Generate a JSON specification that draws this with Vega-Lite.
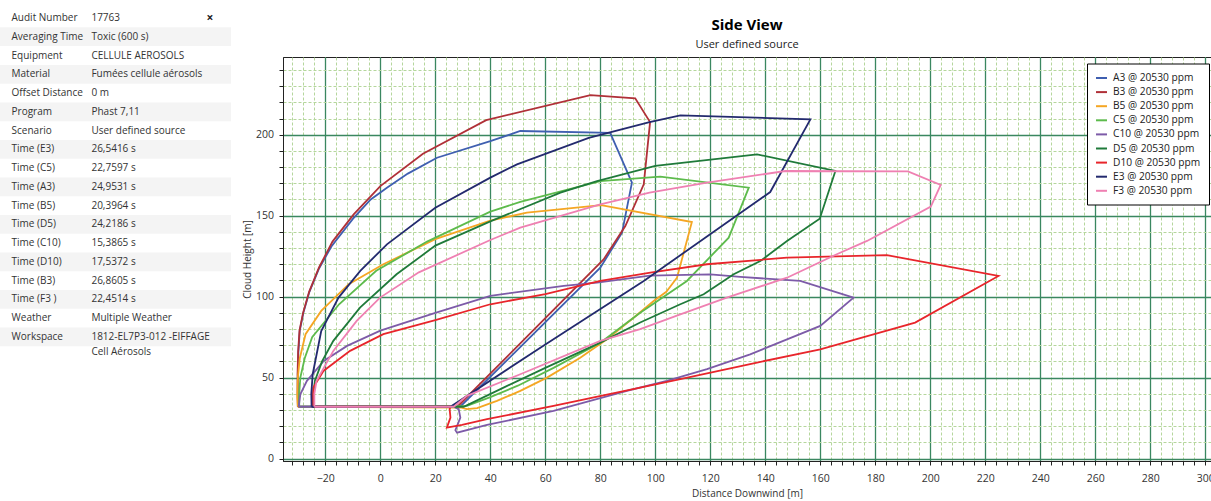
{
  "$schema": "https://vega.github.io/schema/vega-lite/v6.json",
  "padding": {"left": 0, "top": 11, "right": 0, "bottom": 0},
  "background": "white",
  "bounds": "flush",
  "spacing": 52,
  "config": {"font": "Open Sans", "view": {"stroke": null}},
  "datasets": {
    "info": [
      {"row": 1, "label": "Audit Number", "value": "17763"},
      {"row": 2, "label": "Averaging Time", "value": "Toxic (600 s)"},
      {"row": 3, "label": "Equipment", "value": "CELLULE AEROSOLS"},
      {"row": 4, "label": "Material", "value": "Fumées cellule aérosols"},
      {"row": 5, "label": "Offset Distance", "value": "0 m"},
      {"row": 6, "label": "Program", "value": "Phast 7,11"},
      {"row": 7, "label": "Scenario", "value": "User defined source"},
      {"row": 8, "label": "Time (E3)", "value": "26,5416 s"},
      {"row": 9, "label": "Time (C5)", "value": "22,7597 s"},
      {"row": 10, "label": "Time (A3)", "value": "24,9531 s"},
      {"row": 11, "label": "Time (B5)", "value": "20,3964 s"},
      {"row": 12, "label": "Time (D5)", "value": "24,2186 s"},
      {"row": 13, "label": "Time (C10)", "value": "15,3865 s"},
      {"row": 14, "label": "Time (D10)", "value": "17,5372 s"},
      {"row": 15, "label": "Time (B3)", "value": "26,8605 s"},
      {"row": 16, "label": "Time (F3 )", "value": "22,4514 s"},
      {"row": 17, "label": "Weather", "value": "Multiple Weather"},
      {"row": 18, "label": "Workspace", "value": "1812-EL7P3-012 -EIFFAGE", "value2": "Cell Aérosols"}
    ],
    "curves": [
      {"s": "A3 @ 20530 ppm", "i": 1, "x": -29.9, "y": 32},
      {"s": "A3 @ 20530 ppm", "i": 2, "x": -30, "y": 40},
      {"s": "A3 @ 20530 ppm", "i": 3, "x": -30, "y": 52},
      {"s": "A3 @ 20530 ppm", "i": 4, "x": -29.8, "y": 66},
      {"s": "A3 @ 20530 ppm", "i": 5, "x": -29.3, "y": 79},
      {"s": "A3 @ 20530 ppm", "i": 6, "x": -28, "y": 90},
      {"s": "A3 @ 20530 ppm", "i": 7, "x": -25.8, "y": 103},
      {"s": "A3 @ 20530 ppm", "i": 8, "x": -22.4, "y": 117},
      {"s": "A3 @ 20530 ppm", "i": 9, "x": -17.8, "y": 131},
      {"s": "A3 @ 20530 ppm", "i": 10, "x": -10, "y": 148},
      {"s": "A3 @ 20530 ppm", "i": 11, "x": -3.5, "y": 160},
      {"s": "A3 @ 20530 ppm", "i": 12, "x": 2.4, "y": 167.3},
      {"s": "A3 @ 20530 ppm", "i": 13, "x": 10, "y": 176},
      {"s": "A3 @ 20530 ppm", "i": 14, "x": 20.6, "y": 185.8},
      {"s": "A3 @ 20530 ppm", "i": 15, "x": 40, "y": 196},
      {"s": "A3 @ 20530 ppm", "i": 16, "x": 50.9, "y": 202.3},
      {"s": "A3 @ 20530 ppm", "i": 17, "x": 83.6, "y": 201.2},
      {"s": "A3 @ 20530 ppm", "i": 18, "x": 91.5, "y": 170.4},
      {"s": "A3 @ 20530 ppm", "i": 19, "x": 87.9, "y": 139.5},
      {"s": "A3 @ 20530 ppm", "i": 20, "x": 80, "y": 117.9},
      {"s": "A3 @ 20530 ppm", "i": 21, "x": 29, "y": 32},
      {"s": "A3 @ 20530 ppm", "i": 22, "x": -29.9, "y": 32},

      {"s": "B3 @ 20530 ppm", "i": 1, "x": -30, "y": 32},
      {"s": "B3 @ 20530 ppm", "i": 2, "x": -30.1, "y": 40},
      {"s": "B3 @ 20530 ppm", "i": 3, "x": -30.1, "y": 52},
      {"s": "B3 @ 20530 ppm", "i": 4, "x": -29.9, "y": 66},
      {"s": "B3 @ 20530 ppm", "i": 5, "x": -29.4, "y": 79},
      {"s": "B3 @ 20530 ppm", "i": 6, "x": -28.1, "y": 90},
      {"s": "B3 @ 20530 ppm", "i": 7, "x": -25.9, "y": 103},
      {"s": "B3 @ 20530 ppm", "i": 8, "x": -22.3, "y": 118},
      {"s": "B3 @ 20530 ppm", "i": 9, "x": -17.4, "y": 134},
      {"s": "B3 @ 20530 ppm", "i": 10, "x": -9.7, "y": 150.8},
      {"s": "B3 @ 20530 ppm", "i": 11, "x": 0, "y": 168.3},
      {"s": "B3 @ 20530 ppm", "i": 12, "x": 15.5, "y": 188.3},
      {"s": "B3 @ 20530 ppm", "i": 13, "x": 38.5, "y": 209},
      {"s": "B3 @ 20530 ppm", "i": 14, "x": 76.4, "y": 224.5},
      {"s": "B3 @ 20530 ppm", "i": 15, "x": 92.7, "y": 222.5},
      {"s": "B3 @ 20530 ppm", "i": 16, "x": 98.1, "y": 207.8},
      {"s": "B3 @ 20530 ppm", "i": 17, "x": 95.8, "y": 169.4},
      {"s": "B3 @ 20530 ppm", "i": 18, "x": 89.1, "y": 143.6},
      {"s": "B3 @ 20530 ppm", "i": 19, "x": 81.2, "y": 123},
      {"s": "B3 @ 20530 ppm", "i": 20, "x": 28, "y": 32},
      {"s": "B3 @ 20530 ppm", "i": 21, "x": -30, "y": 32},

      {"s": "B5 @ 20530 ppm", "i": 1, "x": -30, "y": 32},
      {"s": "B5 @ 20530 ppm", "i": 2, "x": -30.2, "y": 38},
      {"s": "B5 @ 20530 ppm", "i": 3, "x": -30, "y": 50},
      {"s": "B5 @ 20530 ppm", "i": 4, "x": -29.3, "y": 62},
      {"s": "B5 @ 20530 ppm", "i": 5, "x": -27.2, "y": 76.8},
      {"s": "B5 @ 20530 ppm", "i": 6, "x": -21.5, "y": 91.2},
      {"s": "B5 @ 20530 ppm", "i": 7, "x": -11.5, "y": 107.7},
      {"s": "B5 @ 20530 ppm", "i": 8, "x": 1.1, "y": 120},
      {"s": "B5 @ 20530 ppm", "i": 9, "x": 20, "y": 135.5},
      {"s": "B5 @ 20530 ppm", "i": 10, "x": 40, "y": 147},
      {"s": "B5 @ 20530 ppm", "i": 11, "x": 53.3, "y": 151.9},
      {"s": "B5 @ 20530 ppm", "i": 12, "x": 80.3, "y": 156.5},
      {"s": "B5 @ 20530 ppm", "i": 13, "x": 113.3, "y": 146.1},
      {"s": "B5 @ 20530 ppm", "i": 14, "x": 107.9, "y": 111.7},
      {"s": "B5 @ 20530 ppm", "i": 15, "x": 104, "y": 103},
      {"s": "B5 @ 20530 ppm", "i": 16, "x": 99.4, "y": 97.3},
      {"s": "B5 @ 20530 ppm", "i": 17, "x": 92.1, "y": 87},
      {"s": "B5 @ 20530 ppm", "i": 18, "x": 82.4, "y": 73.7},
      {"s": "B5 @ 20530 ppm", "i": 19, "x": 72.7, "y": 62.3},
      {"s": "B5 @ 20530 ppm", "i": 20, "x": 60.6, "y": 50},
      {"s": "B5 @ 20530 ppm", "i": 21, "x": 50.9, "y": 41.8},
      {"s": "B5 @ 20530 ppm", "i": 22, "x": 42.4, "y": 35.6},
      {"s": "B5 @ 20530 ppm", "i": 23, "x": 35.2, "y": 31.1},
      {"s": "B5 @ 20530 ppm", "i": 24, "x": 31.5, "y": 30.5},
      {"s": "B5 @ 20530 ppm", "i": 25, "x": 29.5, "y": 31.5},
      {"s": "B5 @ 20530 ppm", "i": 26, "x": -30, "y": 32},

      {"s": "C5 @ 20530 ppm", "i": 1, "x": -29.5, "y": 32},
      {"s": "C5 @ 20530 ppm", "i": 2, "x": -29.5, "y": 40},
      {"s": "C5 @ 20530 ppm", "i": 3, "x": -29.1, "y": 50},
      {"s": "C5 @ 20530 ppm", "i": 4, "x": -27.5, "y": 62},
      {"s": "C5 @ 20530 ppm", "i": 5, "x": -24.8, "y": 75},
      {"s": "C5 @ 20530 ppm", "i": 6, "x": -15, "y": 95.3},
      {"s": "C5 @ 20530 ppm", "i": 7, "x": -1.5, "y": 116},
      {"s": "C5 @ 20530 ppm", "i": 8, "x": 17, "y": 134},
      {"s": "C5 @ 20530 ppm", "i": 9, "x": 40, "y": 152.5},
      {"s": "C5 @ 20530 ppm", "i": 10, "x": 50.9, "y": 158.5},
      {"s": "C5 @ 20530 ppm", "i": 11, "x": 80, "y": 171.4},
      {"s": "C5 @ 20530 ppm", "i": 12, "x": 101.8, "y": 174.1},
      {"s": "C5 @ 20530 ppm", "i": 13, "x": 134, "y": 167.3},
      {"s": "C5 @ 20530 ppm", "i": 14, "x": 126.7, "y": 136.4},
      {"s": "C5 @ 20530 ppm", "i": 15, "x": 111.5, "y": 109.7},
      {"s": "C5 @ 20530 ppm", "i": 16, "x": 94.5, "y": 90},
      {"s": "C5 @ 20530 ppm", "i": 17, "x": 80, "y": 71.5},
      {"s": "C5 @ 20530 ppm", "i": 18, "x": 63, "y": 56},
      {"s": "C5 @ 20530 ppm", "i": 19, "x": 50, "y": 45},
      {"s": "C5 @ 20530 ppm", "i": 20, "x": 40, "y": 38},
      {"s": "C5 @ 20530 ppm", "i": 21, "x": 31.5, "y": 32.5},
      {"s": "C5 @ 20530 ppm", "i": 22, "x": -29.5, "y": 32},

      {"s": "C10 @ 20530 ppm", "i": 1, "x": -29.7, "y": 32},
      {"s": "C10 @ 20530 ppm", "i": 2, "x": -29.1, "y": 39.7},
      {"s": "C10 @ 20530 ppm", "i": 3, "x": -26.7, "y": 48},
      {"s": "C10 @ 20530 ppm", "i": 4, "x": -20.6, "y": 60.3},
      {"s": "C10 @ 20530 ppm", "i": 5, "x": -12.1, "y": 69.6},
      {"s": "C10 @ 20530 ppm", "i": 6, "x": 0, "y": 79},
      {"s": "C10 @ 20530 ppm", "i": 7, "x": 20, "y": 90},
      {"s": "C10 @ 20530 ppm", "i": 8, "x": 40, "y": 100.5},
      {"s": "C10 @ 20530 ppm", "i": 9, "x": 66.7, "y": 106.6},
      {"s": "C10 @ 20530 ppm", "i": 10, "x": 78.8, "y": 108.6},
      {"s": "C10 @ 20530 ppm", "i": 11, "x": 98, "y": 113},
      {"s": "C10 @ 20530 ppm", "i": 12, "x": 120, "y": 113.8},
      {"s": "C10 @ 20530 ppm", "i": 13, "x": 130.9, "y": 112.2},
      {"s": "C10 @ 20530 ppm", "i": 14, "x": 152.7, "y": 109.7},
      {"s": "C10 @ 20530 ppm", "i": 15, "x": 172.1, "y": 99.4},
      {"s": "C10 @ 20530 ppm", "i": 16, "x": 160, "y": 81.9},
      {"s": "C10 @ 20530 ppm", "i": 17, "x": 134.5, "y": 64.4},
      {"s": "C10 @ 20530 ppm", "i": 18, "x": 118.8, "y": 55.2},
      {"s": "C10 @ 20530 ppm", "i": 19, "x": 104.2, "y": 48},
      {"s": "C10 @ 20530 ppm", "i": 20, "x": 90, "y": 42},
      {"s": "C10 @ 20530 ppm", "i": 21, "x": 63, "y": 29.4},
      {"s": "C10 @ 20530 ppm", "i": 22, "x": 38.8, "y": 20.8},
      {"s": "C10 @ 20530 ppm", "i": 23, "x": 27.9, "y": 16},
      {"s": "C10 @ 20530 ppm", "i": 24, "x": 27.3, "y": 17.5},
      {"s": "C10 @ 20530 ppm", "i": 25, "x": 29.1, "y": 25.3},
      {"s": "C10 @ 20530 ppm", "i": 26, "x": 28.5, "y": 30.5},
      {"s": "C10 @ 20530 ppm", "i": 27, "x": 26.7, "y": 32},
      {"s": "C10 @ 20530 ppm", "i": 28, "x": -29.7, "y": 32},

      {"s": "D5 @ 20530 ppm", "i": 1, "x": -24.5, "y": 32},
      {"s": "D5 @ 20530 ppm", "i": 2, "x": -24.4, "y": 40},
      {"s": "D5 @ 20530 ppm", "i": 3, "x": -23.8, "y": 48},
      {"s": "D5 @ 20530 ppm", "i": 4, "x": -21.2, "y": 60},
      {"s": "D5 @ 20530 ppm", "i": 5, "x": -17.1, "y": 72.7},
      {"s": "D5 @ 20530 ppm", "i": 6, "x": -7.4, "y": 93.2},
      {"s": "D5 @ 20530 ppm", "i": 7, "x": 5.9, "y": 113.8},
      {"s": "D5 @ 20530 ppm", "i": 8, "x": 20, "y": 131.5},
      {"s": "D5 @ 20530 ppm", "i": 9, "x": 40, "y": 146.5},
      {"s": "D5 @ 20530 ppm", "i": 10, "x": 65.5, "y": 164.2},
      {"s": "D5 @ 20530 ppm", "i": 11, "x": 78.8, "y": 171.4},
      {"s": "D5 @ 20530 ppm", "i": 12, "x": 100, "y": 180.7},
      {"s": "D5 @ 20530 ppm", "i": 13, "x": 137, "y": 187.9},
      {"s": "D5 @ 20530 ppm", "i": 14, "x": 165.5, "y": 177.6},
      {"s": "D5 @ 20530 ppm", "i": 15, "x": 159.8, "y": 148.1},
      {"s": "D5 @ 20530 ppm", "i": 16, "x": 147.9, "y": 134.4},
      {"s": "D5 @ 20530 ppm", "i": 17, "x": 138.2, "y": 122},
      {"s": "D5 @ 20530 ppm", "i": 18, "x": 128.5, "y": 113.8},
      {"s": "D5 @ 20530 ppm", "i": 19, "x": 117.6, "y": 101.5},
      {"s": "D5 @ 20530 ppm", "i": 20, "x": 109.1, "y": 95.3},
      {"s": "D5 @ 20530 ppm", "i": 21, "x": 94.5, "y": 84},
      {"s": "D5 @ 20530 ppm", "i": 22, "x": 80, "y": 71.6},
      {"s": "D5 @ 20530 ppm", "i": 23, "x": 60, "y": 56},
      {"s": "D5 @ 20530 ppm", "i": 24, "x": 45, "y": 44},
      {"s": "D5 @ 20530 ppm", "i": 25, "x": 30.3, "y": 32},
      {"s": "D5 @ 20530 ppm", "i": 26, "x": -24.5, "y": 32},

      {"s": "D10 @ 20530 ppm", "i": 1, "x": -24.5, "y": 32},
      {"s": "D10 @ 20530 ppm", "i": 2, "x": -24.5, "y": 38},
      {"s": "D10 @ 20530 ppm", "i": 3, "x": -24.4, "y": 43.8},
      {"s": "D10 @ 20530 ppm", "i": 4, "x": -20.7, "y": 54.1},
      {"s": "D10 @ 20530 ppm", "i": 5, "x": -11, "y": 66.5},
      {"s": "D10 @ 20530 ppm", "i": 6, "x": 1.1, "y": 76.8},
      {"s": "D10 @ 20530 ppm", "i": 7, "x": 20, "y": 85.5},
      {"s": "D10 @ 20530 ppm", "i": 8, "x": 40, "y": 95.3},
      {"s": "D10 @ 20530 ppm", "i": 9, "x": 60, "y": 101.5},
      {"s": "D10 @ 20530 ppm", "i": 10, "x": 80, "y": 109.7},
      {"s": "D10 @ 20530 ppm", "i": 11, "x": 98.2, "y": 114.8},
      {"s": "D10 @ 20530 ppm", "i": 12, "x": 118.8, "y": 120},
      {"s": "D10 @ 20530 ppm", "i": 13, "x": 147.9, "y": 124.1},
      {"s": "D10 @ 20530 ppm", "i": 14, "x": 184.2, "y": 125.7},
      {"s": "D10 @ 20530 ppm", "i": 15, "x": 224.8, "y": 112.8},
      {"s": "D10 @ 20530 ppm", "i": 16, "x": 194.5, "y": 84},
      {"s": "D10 @ 20530 ppm", "i": 17, "x": 160, "y": 67.5},
      {"s": "D10 @ 20530 ppm", "i": 18, "x": 137, "y": 59.3},
      {"s": "D10 @ 20530 ppm", "i": 19, "x": 109.1, "y": 49},
      {"s": "D10 @ 20530 ppm", "i": 20, "x": 94.5, "y": 43.8},
      {"s": "D10 @ 20530 ppm", "i": 21, "x": 63, "y": 32.5},
      {"s": "D10 @ 20530 ppm", "i": 22, "x": 38.8, "y": 24.3},
      {"s": "D10 @ 20530 ppm", "i": 23, "x": 29.7, "y": 20.8},
      {"s": "D10 @ 20530 ppm", "i": 24, "x": 24.2, "y": 19.1},
      {"s": "D10 @ 20530 ppm", "i": 25, "x": 25.5, "y": 25.3},
      {"s": "D10 @ 20530 ppm", "i": 26, "x": 25.2, "y": 30.5},
      {"s": "D10 @ 20530 ppm", "i": 27, "x": 25.5, "y": 32},
      {"s": "D10 @ 20530 ppm", "i": 28, "x": -24.5, "y": 32},

      {"s": "E3 @ 20530 ppm", "i": 1, "x": -25, "y": 32},
      {"s": "E3 @ 20530 ppm", "i": 2, "x": -25.1, "y": 40},
      {"s": "E3 @ 20530 ppm", "i": 3, "x": -24.6, "y": 52.1},
      {"s": "E3 @ 20530 ppm", "i": 4, "x": -21.5, "y": 78.8},
      {"s": "E3 @ 20530 ppm", "i": 5, "x": -15.2, "y": 99.4},
      {"s": "E3 @ 20530 ppm", "i": 6, "x": -7.3, "y": 115.9},
      {"s": "E3 @ 20530 ppm", "i": 7, "x": 2.4, "y": 132.3},
      {"s": "E3 @ 20530 ppm", "i": 8, "x": 20, "y": 154.9},
      {"s": "E3 @ 20530 ppm", "i": 9, "x": 40, "y": 173.5},
      {"s": "E3 @ 20530 ppm", "i": 10, "x": 49.7, "y": 181.7},
      {"s": "E3 @ 20530 ppm", "i": 11, "x": 75.8, "y": 198.1},
      {"s": "E3 @ 20530 ppm", "i": 12, "x": 97.9, "y": 207.8},
      {"s": "E3 @ 20530 ppm", "i": 13, "x": 109.1, "y": 212},
      {"s": "E3 @ 20530 ppm", "i": 14, "x": 156.4, "y": 209.5},
      {"s": "E3 @ 20530 ppm", "i": 15, "x": 141.8, "y": 164.6},
      {"s": "E3 @ 20530 ppm", "i": 16, "x": 95.8, "y": 109.7},
      {"s": "E3 @ 20530 ppm", "i": 17, "x": 60, "y": 70.5},
      {"s": "E3 @ 20530 ppm", "i": 18, "x": 25.5, "y": 32},
      {"s": "E3 @ 20530 ppm", "i": 19, "x": -25, "y": 32},

      {"s": "F3  @ 20530 ppm", "i": 1, "x": -24, "y": 32},
      {"s": "F3  @ 20530 ppm", "i": 2, "x": -24, "y": 40},
      {"s": "F3  @ 20530 ppm", "i": 3, "x": -23.2, "y": 48},
      {"s": "F3  @ 20530 ppm", "i": 4, "x": -17.1, "y": 66.5},
      {"s": "F3  @ 20530 ppm", "i": 5, "x": -8.6, "y": 85},
      {"s": "F3  @ 20530 ppm", "i": 6, "x": -0.1, "y": 99.4},
      {"s": "F3  @ 20530 ppm", "i": 7, "x": 14, "y": 115},
      {"s": "F3  @ 20530 ppm", "i": 8, "x": 40, "y": 135},
      {"s": "F3  @ 20530 ppm", "i": 9, "x": 50.9, "y": 142.6},
      {"s": "F3  @ 20530 ppm", "i": 10, "x": 80, "y": 157},
      {"s": "F3  @ 20530 ppm", "i": 11, "x": 97.9, "y": 164.2},
      {"s": "F3  @ 20530 ppm", "i": 12, "x": 118.8, "y": 170.4},
      {"s": "F3  @ 20530 ppm", "i": 13, "x": 147.3, "y": 177.6},
      {"s": "F3  @ 20530 ppm", "i": 14, "x": 191.9, "y": 177.4},
      {"s": "F3  @ 20530 ppm", "i": 15, "x": 203.8, "y": 169},
      {"s": "F3  @ 20530 ppm", "i": 16, "x": 200.2, "y": 155.6},
      {"s": "F3  @ 20530 ppm", "i": 17, "x": 177, "y": 134.4},
      {"s": "F3  @ 20530 ppm", "i": 18, "x": 166, "y": 126.2},
      {"s": "F3  @ 20530 ppm", "i": 19, "x": 147.9, "y": 111.7},
      {"s": "F3  @ 20530 ppm", "i": 20, "x": 126, "y": 99.4},
      {"s": "F3  @ 20530 ppm", "i": 21, "x": 109.1, "y": 89.1},
      {"s": "F3  @ 20530 ppm", "i": 22, "x": 94.5, "y": 79.9},
      {"s": "F3  @ 20530 ppm", "i": 23, "x": 80, "y": 72.7},
      {"s": "F3  @ 20530 ppm", "i": 24, "x": 50.9, "y": 52.1},
      {"s": "F3  @ 20530 ppm", "i": 25, "x": 31.5, "y": 38.7},
      {"s": "F3  @ 20530 ppm", "i": 26, "x": 26.7, "y": 32},
      {"s": "F3  @ 20530 ppm", "i": 27, "x": -24, "y": 32}
    ]
  },
  "hconcat": [
    {
      "width": 231,
      "height": 404,
      "view": {"stroke": null},
      "data": {"name": "info"},
      "layer": [
        {
          "transform": [{"filter": "datum.row % 2 == 0"}],
          "mark": {"type": "rect", "color": "#f4f4f4"},
          "encoding": {
            "y": {"field": "row", "type": "ordinal", "axis": null,
                  "scale": {"domain": [1,2,3,4,5,6,7,8,9,10,11,12,13,14,15,16,17,18], "range": [-48.4, 289.3], "paddingInner": 0, "paddingOuter": 0}}
          }
        },
        {
          "mark": {"type": "text", "align": "left", "baseline": "middle", "fontSize": 10, "color": "#333"},
          "encoding": {
            "x": {"datum": 12, "type": "quantitative", "scale": {"domain": [0, 231]}, "axis": null},
            "y": {"field": "row", "type": "ordinal", "axis": null},
            "text": {"field": "label"}
          }
        },
        {
          "mark": {"type": "text", "align": "left", "baseline": "middle", "fontSize": 10, "color": "#333"},
          "encoding": {
            "x": {"datum": 95, "type": "quantitative"},
            "y": {"field": "row", "type": "ordinal", "axis": null},
            "text": {"field": "value"}
          }
        },
        {
          "transform": [{"filter": "datum.row == 18"}],
          "mark": {"type": "text", "align": "left", "baseline": "middle", "fontSize": 10, "color": "#333", "dy": 15},
          "encoding": {
            "x": {"datum": 95, "type": "quantitative"},
            "y": {"field": "row", "type": "ordinal", "axis": null},
            "text": {"field": "value2"}
          }
        },
        {
          "transform": [{"filter": "datum.row == 1"}],
          "mark": {"type": "text", "align": "center", "baseline": "middle", "fontSize": 12, "fontWeight": "bold", "color": "#222"},
          "encoding": {
            "x": {"datum": 218, "type": "quantitative"},
            "y": {"field": "row", "type": "ordinal", "axis": null},
            "text": {"value": "×"}
          }
        }
      ]
    },
    {
      "width": 928,
      "height": 404,
      "view": {"stroke": "#222", "strokeWidth": 1},
      "title": {"text": "Side View", "subtitle": "User defined source", "fontSize": 15, "fontWeight": "bold", "color": "#000", "subtitleFontSize": 11, "subtitleColor": "#222", "subtitlePadding": 6, "offset": 7, "anchor": "middle"},
      "data": {"name": "curves"},
      "resolve": {"axis": {"x": "independent", "y": "independent"}},
      "layer": [
        {
          "mark": {"type": "point", "opacity": 0},
          "encoding": {
            "x": {"field": "x", "type": "quantitative",
                  "scale": {"domain": [-35.4, 302.1], "nice": false, "zero": false},
                  "axis": {"orient": "bottom", "values": [-32,-28,-24,-20,-16,-12,-8,-4,0,4,8,12,16,20,24,28,32,36,40,44,48,52,56,60,64,68,72,76,80,84,88,92,96,100,104,108,112,116,120,124,128,132,136,140,144,148,152,156,160,164,168,172,176,180,184,188,192,196,200,204,208,212,216,220,224,228,232,236,240,244,248,252,256,260,264,268,272,276,280,284,288,292,296,300],
                           "grid": true, "gridColor": "#b5d69c", "gridDash": [3, 2], "gridWidth": 1, "labels": false, "ticks": true, "tickSize": 4, "tickColor": "#222", "domain": false, "title": null}},
            "y": {"field": "y", "type": "quantitative",
                  "scale": {"domain": [-1.5, 248], "nice": false, "zero": false},
                  "axis": {"orient": "left", "values": [0,10,20,30,40,50,60,70,80,90,100,110,120,130,140,150,160,170,180,190,200,210,220,230,240],
                           "grid": true, "gridColor": "#b5d69c", "gridDash": [3, 2], "gridWidth": 1, "labels": false, "ticks": true, "tickSize": 4, "tickColor": "#222", "domain": false, "title": null}}
          }
        },
        {
          "mark": {"type": "line", "strokeWidth": 1.8},
          "encoding": {
            "x": {"field": "x", "type": "quantitative",
                  "axis": {"orient": "bottom", "values": [-20,0,20,40,60,80,100,120,140,160,180,200,220,240,260,280,300],
                           "grid": true, "gridColor": "#3a8760", "gridWidth": 1.3, "ticks": false, "labelPadding": 12.5, "labelFontSize": 10.5, "labelColor": "#333", "domain": true, "domainColor": "#222", "title": "Distance Downwind [m]", "titleFontSize": 10, "titleFontWeight": "normal", "titleColor": "#333", "titlePadding": 4}},
            "y": {"field": "y", "type": "quantitative",
                  "axis": {"orient": "left", "values": [0,50,100,150,200],
                           "grid": true, "gridColor": "#3a8760", "gridWidth": 1.3, "ticks": false, "labelPadding": 9.5, "labelFontSize": 10.5, "labelColor": "#333", "domain": true, "domainColor": "#222", "title": "Cloud Height [m]", "titleFontSize": 10, "titleFontWeight": "normal", "titleColor": "#333", "titlePadding": 3}},
            "color": {"field": "s", "type": "nominal",
                      "scale": {"domain": ["A3 @ 20530 ppm", "B3 @ 20530 ppm", "B5 @ 20530 ppm", "C5 @ 20530 ppm", "C10 @ 20530 ppm", "D5 @ 20530 ppm", "D10 @ 20530 ppm", "E3 @ 20530 ppm", "F3  @ 20530 ppm"],
                                "range": ["#3f5fb0", "#b03038", "#f5a623", "#5dbb4c", "#7d5ba8", "#1f7a3a", "#e8252b", "#232a6e", "#ef80b2"]},
                      "legend": {"title": null, "orient": "none", "legendX": 1087, "legendY": 6.5, "symbolType": "stroke", "symbolStrokeWidth": 2, "symbolSize": 120, "labelFontSize": 10.2, "labelColor": "#222", "strokeColor": "#000", "fillColor": "#fff", "padding": 8, "rowPadding": 2.1, "labelOffset": 5}},
            "order": {"field": "i", "type": "quantitative"}
          }
        }
      ]
    }
  ]
}
